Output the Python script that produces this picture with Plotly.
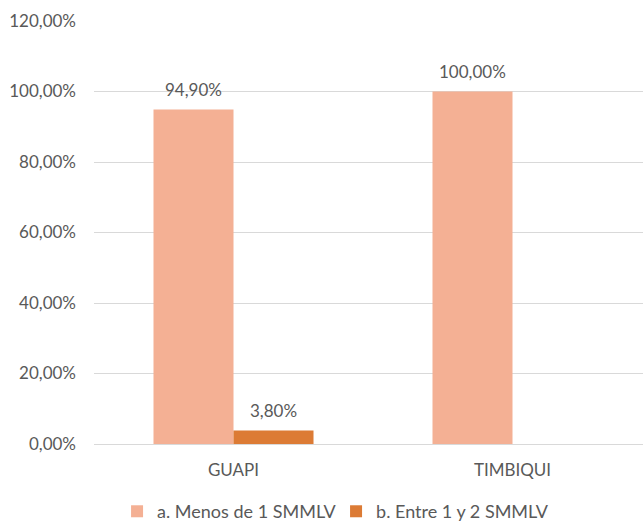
import plotly.graph_objects as go

categories = ["GUAPI", "TIMBIQUI"]
series_names = ["a. Menos de 1 SMMLV", "b. Entre 1 y 2 SMMLV"]
menos_1 = [0.949, 1.00]
entre_1_2 = [0.038, None]
colors = ["#F4B094", "#DC7B35"]
y_ticks = [0, 0.2, 0.4, 0.6, 0.8, 1.0, 1.2]

FONT = "Lato"
GREY = "#595959"
FS = 17

fig = go.Figure()
series = [menos_1, entre_1_2]
offsets = [-40, 40]
for name, vals, col, off in zip(series_names, series, colors, offsets):
    fig.add_trace(go.Bar(
        x=categories, y=vals, name=name,
        marker=dict(color=col, line=dict(width=0)),
    ))
    for cat, v in zip(categories, vals):
        if v is None:
            continue
        fig.add_annotation(
            x=cat, y=v, xshift=off, yshift=8, yanchor="bottom",
            text=f"{v*100:.2f}%".replace(".", ","), showarrow=False,
            font=dict(family=FONT, size=FS, color=GREY),
        )

fig.update_layout(
    width=643, height=521,
    margin=dict(l=94, r=0, t=21, b=77, autoexpand=False),
    paper_bgcolor="white", plot_bgcolor="white",
    separators=",.",
    barmode="group", bargap=0.4265, bargroupgap=0,
    font=dict(family=FONT, size=FS, color=GREY),
    xaxis=dict(range=[-0.5, 1.4677], showgrid=False, showline=True,
               linecolor="#D9D9D9", linewidth=1, ticks="",
               automargin=False, ticklabelstandoff=11,
               tickfont=dict(family=FONT, size=FS, color=GREY)),
    yaxis=dict(range=[0, 1.2001], tickvals=y_ticks,
               tickformat=".2%",
               showgrid=True, gridcolor="#D9D9D9", gridwidth=1,
               zeroline=False, showline=False, ticks="",
               automargin=False, ticklabelstandoff=17,
               tickfont=dict(family=FONT, size=FS, color=GREY)),
    legend=dict(orientation="h", x=0.042, xanchor="left", y=-0.116,
                yanchor="top", entrywidth=174,
                font=dict(family=FONT, size=18, color=GREY)),
    showlegend=True,
)

fig.write_html("out.html", config={"displayModeBar": False},
               post_script="document.body.style.margin='0';")
